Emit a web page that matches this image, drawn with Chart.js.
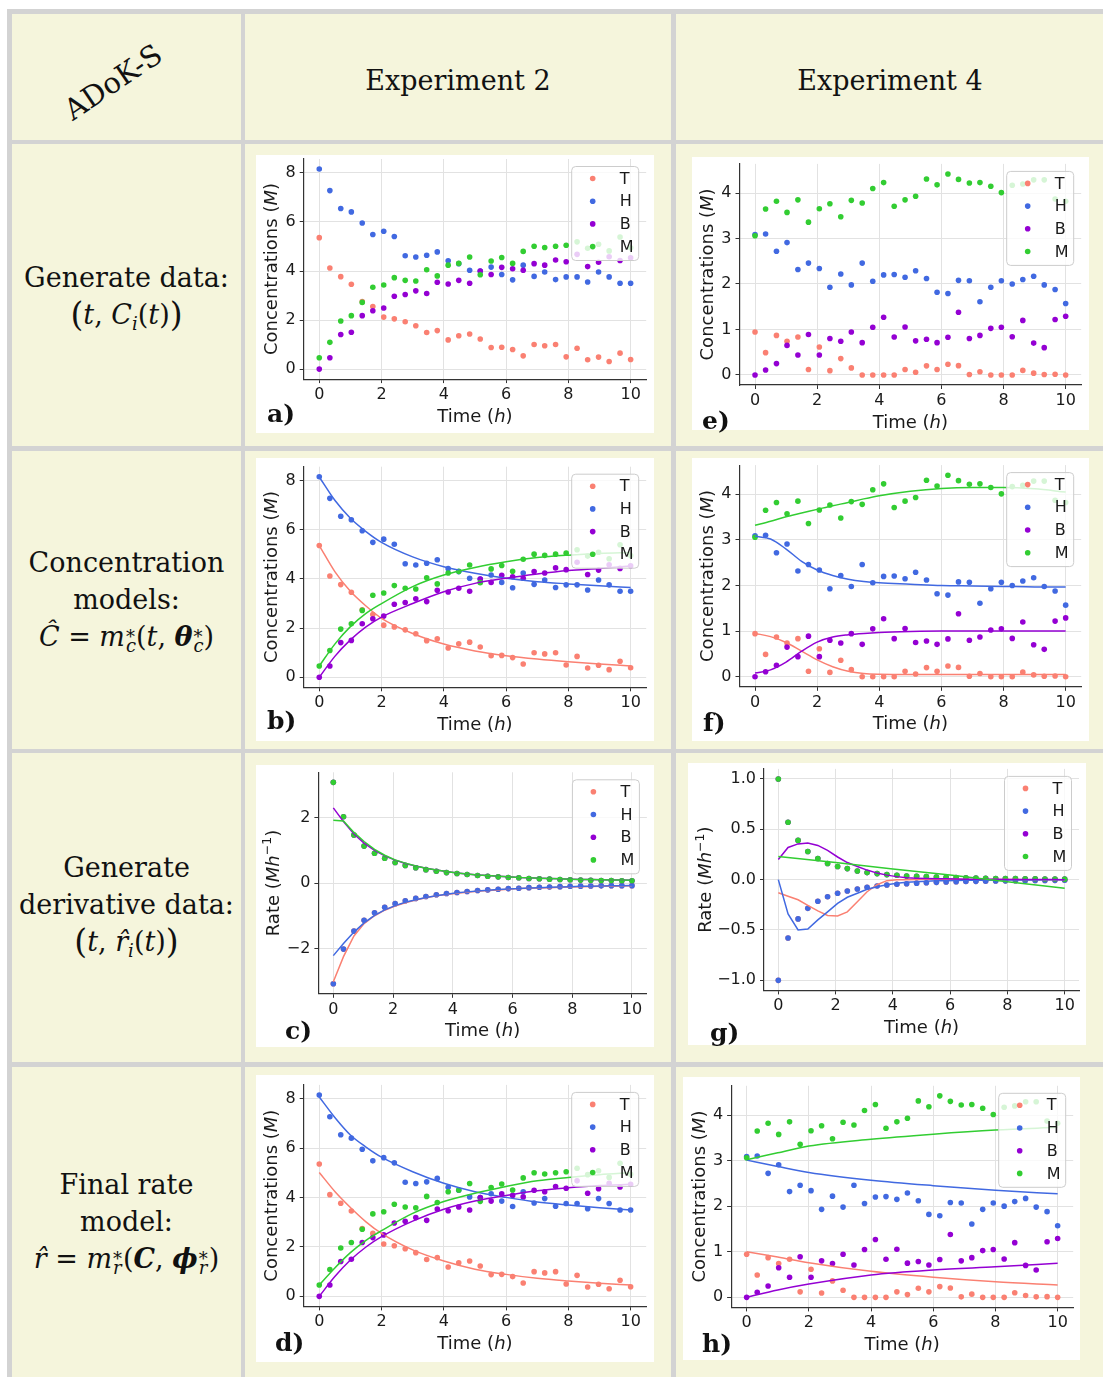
<!DOCTYPE html>
<html>
<head>
<meta charset="utf-8">
<title>ADoK-S</title>
<script src="https://cdn.jsdelivr.net/npm/chart.js@4.4.1/dist/chart.umd.min.js"></script>
<style>
  html, body { margin: 0; padding: 0; }
  body { width: 1103px; height: 1377px; position: relative; overflow: hidden; background: #fff;
         font-family: "DejaVu Serif", serif; color: #111; }
  #frame { position: absolute; left: 7px; top: 9px; right: 0; bottom: 0; background: #d3d3d3; }
  .cell { position: absolute; background: #f5f5dc; }
  .box { position: absolute; background: #fff; }
  .box canvas { position: absolute; left: 0; top: 0; }
  .head { position: absolute; font-size: 27px; line-height: 30px; white-space: nowrap; }
  .side { position: absolute; left: 12px; width: 229px; text-align: center; font-size: 27px;
          line-height: 37px; white-space: nowrap; }
  .tag { position: absolute; font-weight: bold; font-size: 25px; line-height: 25px; }
  .ss { display: inline-block; position: relative; width: 11px; height: 0; }
  .ss .u { position: absolute; left: 1px; top: -18px; font-size: 18px; line-height: 18px; font-style: normal; }
  .ss .d { position: absolute; left: 1px; top: -9px; font-size: 18px; line-height: 18px; font-style: italic; }
  .sb { font-size: 18px; font-style: italic; vertical-align: -6px; }
  .big { font-size: 33px; vertical-align: -2px; }
</style>
</head>
<body>
<div id="frame"></div>
<div id="cells"></div>

<div class="head" style="left:113px;top:82px;font-size:29px;transform:translate(-50%,-50%) rotate(-34deg)">ADoK-S</div>
<div class="head" style="left:458px;top:81px;transform:translate(-50%,-50%)">Experiment 2</div>
<div class="head" style="left:890px;top:81px;transform:translate(-50%,-50%)">Experiment 4</div>

<div class="side" style="top:259px">Generate data:<br><span class="big">(</span><i>t</i>, <i>C</i><span class="sb">i</span>(<i>t</i>)<span class="big">)</span></div>
<div class="side" style="top:544px">Concentration<br>models:<br><i>Ĉ</i> = <i>m</i><span class="ss"><span class="u">*</span><span class="d">c</span></span>(<i>t</i>, <b><i>θ</i></b><span class="ss"><span class="u">*</span><span class="d">c</span></span>)</div>
<div class="side" style="top:849px">Generate<br>derivative data:<br><span class="big">(</span><i>t</i>, <i>r̂</i><span class="sb">i</span>(<i>t</i>)<span class="big">)</span></div>
<div class="side" style="top:1166px">Final rate<br>model:<br><i>r̂</i> = <i>m</i><span class="ss"><span class="u">*</span><span class="d">r</span></span>(<b><i>C</i></b>, <b><i>ϕ</i></b><span class="ss"><span class="u">*</span><span class="d">r</span></span>)</div>

<script>
// --- Data ---
const species = ['T', 'H', 'B', 'M'];
const colors = ['#fa8072', '#4169e1', '#9400d3', '#32cd32'];

const times = [0, 0.34, 0.69, 1.03, 1.38, 1.72, 2.07, 2.41, 2.76, 3.10, 3.45, 3.79, 4.14, 4.48, 4.83,
               5.17, 5.52, 5.86, 6.21, 6.55, 6.90, 7.24, 7.59, 7.93, 8.28, 8.62, 8.97, 9.31, 9.66, 10];

const xTickVals = [0, 2, 4, 6, 8, 10];
const concTicks2 = [0, 2, 4, 6, 8];
const concTicks4 = [0, 1, 2, 3, 4];
const rateTicks2 = [-2, 0, 2];
const rateTicks4 = [-1, -0.5, 0, 0.5, 1];

// Experiment 2 measurements
const exp2T = [5.36, 4.12, 3.77, 3.46, 2.75, 2.55, 2.12, 2.05, 1.93, 1.77, 1.49, 1.57, 1.19, 1.36, 1.43,
               1.23, 0.88, 0.89, 0.80, 0.54, 1.00, 0.95, 1.00, 0.50, 0.85, 0.38, 0.49, 0.31, 0.65, 0.39];
const exp2H = [8.16, 7.28, 6.55, 6.41, 5.96, 5.49, 5.62, 5.41, 4.62, 4.57, 4.64, 4.78, 4.42, 4.30, 4.03,
               4.00, 4.16, 3.86, 3.64, 4.24, 3.78, 3.96, 3.65, 3.76, 3.76, 3.55, 3.96, 3.76, 3.50, 3.50];
const exp2B = [0.00, 0.46, 1.41, 1.50, 2.18, 2.38, 2.49, 2.97, 3.04, 3.19, 3.08, 3.54, 3.47, 3.62, 3.50,
               4.00, 3.86, 4.15, 4.09, 4.03, 4.30, 4.24, 4.45, 4.38, 4.68, 4.18, 4.36, 4.58, 4.43, 4.54];
const exp2M = [0.46, 1.09, 1.96, 2.18, 2.72, 3.34, 3.43, 3.73, 3.62, 3.59, 4.05, 3.80, 4.24, 4.31, 4.57,
               3.85, 4.41, 4.55, 4.31, 4.80, 5.01, 4.96, 5.01, 5.05, 5.19, 4.93, 5.09, 4.82, 5.39, 4.95];

// Experiment 4 measurements
const exp4T = [0.945, 0.49, 0.87, 0.74, 0.835, 0.12, 0.615, 0.095, 0.36, 0.155, 0, 0, 0, 0, 0.12,
               0.06, 0.20, 0.12, 0.235, 0.205, 0.01, 0.07, 0, 0, 0, 0.10, 0.04, 0.01, 0.015, 0];
const exp4H = [3.09, 3.10, 2.72, 2.91, 2.32, 2.46, 2.34, 1.93, 2.22, 1.98, 2.46, 2.06, 2.20, 2.21, 2.15,
               2.29, 2.12, 1.82, 1.79, 2.08, 2.07, 1.61, 1.93, 2.07, 2.00, 2.10, 2.17, 1.98, 1.88, 1.57];
const exp4B = [0.00, 0.11, 0.25, 0.65, 0.44, 0.89, 0.44, 0.80, 0.74, 0.945, 0.71, 1.05, 1.27, 0.835, 1.055,
               0.75, 0.785, 0.71, 0.83, 1.38, 0.80, 0.87, 1.025, 1.05, 0.84, 1.20, 0.70, 0.60, 1.22, 1.29];
const exp4M = [3.06, 3.65, 3.82, 3.575, 3.85, 3.36, 3.655, 3.765, 3.48, 3.84, 3.78, 4.10, 4.23, 3.71, 3.85,
               3.93, 4.31, 4.18, 4.42, 4.30, 4.22, 4.23, 4.15, 4.01, 4.17, 4.20, 4.29, 4.29, 3.87, 3.82];

// b) concentration models, experiment 2
const curveTimesB = [0, 0.5, 1, 1.5, 2, 3, 4, 5, 6, 7, 8, 9, 10];
const fitBT = [5.36, 4.30, 3.50, 2.90, 2.40, 1.78, 1.35, 1.07, 0.88, 0.74, 0.63, 0.54, 0.46];
const fitBH = [8.15, 7.20, 6.47, 5.93, 5.49, 4.90, 4.50, 4.23, 4.03, 3.89, 3.80, 3.72, 3.65];
const fitBB = [0.00, 0.85, 1.52, 2.05, 2.45, 3.00, 3.48, 3.82, 4.03, 4.20, 4.34, 4.43, 4.53];
const fitBM = [0.46, 1.35, 2.06, 2.60, 3.00, 3.69, 4.16, 4.47, 4.70, 4.87, 4.97, 5.04, 5.08];

// d) final rate model, experiment 2
const curveTimesD = [0, 0.5, 1, 1.5, 2, 3, 4, 5, 6, 7, 8, 9, 10];
const fitDT = [5.02, 4.25, 3.60, 3.02, 2.55, 1.88, 1.43, 1.10, 0.89, 0.73, 0.62, 0.53, 0.46];
const fitDH = [8.08, 7.25, 6.54, 6.05, 5.64, 5.05, 4.58, 4.24, 4.01, 3.82, 3.70, 3.59, 3.50];
const fitDB = [0.00, 0.80, 1.47, 2.00, 2.42, 3.05, 3.53, 3.86, 4.09, 4.28, 4.40, 4.49, 4.54];
const fitDM = [0.46, 1.15, 1.77, 2.27, 2.66, 3.36, 3.84, 4.18, 4.45, 4.68, 4.82, 4.93, 5.01];

// f) concentration models, experiment 4
const curveTimesF = [0, 0.5, 1, 1.5, 2, 2.5, 3, 3.5, 4, 5, 6, 7, 8, 9, 10];
const fitFT = [0.95, 0.88, 0.75, 0.56, 0.37, 0.22, 0.12, 0.07, 0.055, 0.05, 0.05, 0.05, 0.05, 0.05, 0.05];
const fitFH = [3.08, 3.02, 2.80, 2.53, 2.34, 2.22, 2.14, 2.09, 2.06, 2.03, 2.00, 1.99, 1.98, 1.97, 1.97];
const fitFB = [0.08, 0.15, 0.32, 0.56, 0.76, 0.87, 0.92, 0.95, 0.97, 0.99, 1.00, 1.00, 1.00, 1.00, 1.00];
const fitFM = [3.32, 3.41, 3.51, 3.59, 3.67, 3.75, 3.82, 3.90, 3.97, 4.07, 4.13, 4.15, 4.15, 4.12, 4.05];

// h) final rate model, experiment 4
const curveTimesH = [0, 1, 2, 4, 6, 8, 10];
const fitHT = [1.00, 0.885, 0.76, 0.57, 0.44, 0.34, 0.27];
const fitHH = [3.01, 2.87, 2.74, 2.57, 2.45, 2.35, 2.27];
const fitHB = [0.00, 0.16, 0.29, 0.49, 0.60, 0.67, 0.745];
const fitHM = [3.02, 3.17, 3.32, 3.47, 3.58, 3.67, 3.73];

// c) derivative data, experiment 2
const rate2T = [-3.08, -2.02, -1.47, -1.14, -0.91, -0.74, -0.63, -0.54, -0.47, -0.41, -0.36, -0.32, -0.29, -0.26, -0.23,
                -0.21, -0.19, -0.17, -0.16, -0.14, -0.13, -0.12, -0.11, -0.10, -0.095, -0.09, -0.085, -0.08, -0.08, -0.08];
const rate2H = [-3.08, -2.02, -1.47, -1.14, -0.91, -0.74, -0.63, -0.54, -0.47, -0.41, -0.36, -0.32, -0.29, -0.26, -0.23,
                -0.21, -0.19, -0.17, -0.16, -0.14, -0.13, -0.12, -0.11, -0.10, -0.095, -0.09, -0.085, -0.08, -0.08, -0.08];
const rate2B = [3.08, 2.03, 1.47, 1.13, 0.91, 0.76, 0.63, 0.54, 0.47, 0.41, 0.36, 0.32, 0.29, 0.26, 0.23,
                0.21, 0.19, 0.17, 0.16, 0.14, 0.13, 0.12, 0.11, 0.10, 0.09, 0.085, 0.08, 0.075, 0.07, 0.07];
const rate2M = [3.08, 2.03, 1.47, 1.13, 0.91, 0.76, 0.63, 0.54, 0.47, 0.41, 0.36, 0.32, 0.29, 0.26, 0.23,
                0.21, 0.19, 0.17, 0.16, 0.14, 0.13, 0.12, 0.11, 0.10, 0.09, 0.085, 0.08, 0.075, 0.07, 0.07];
const rate2FitT = [-3.02, -2.25, -1.62, -1.24, -1.00, -0.83, -0.70, -0.60, -0.52, -0.45, -0.39, -0.35, -0.31, -0.28, -0.25,
                   -0.23, -0.21, -0.19, -0.17, -0.16, -0.15, -0.14, -0.13, -0.12, -0.11, -0.105, -0.10, -0.095, -0.09, -0.085];
const rate2FitH = [-2.22, -1.85, -1.50, -1.22, -0.99, -0.82, -0.69, -0.59, -0.51, -0.44, -0.39, -0.34, -0.30, -0.27, -0.24,
                   -0.22, -0.20, -0.18, -0.17, -0.15, -0.14, -0.13, -0.12, -0.11, -0.10, -0.095, -0.09, -0.085, -0.08, -0.075];
const rate2FitB = [2.30, 1.88, 1.50, 1.22, 1.00, 0.83, 0.70, 0.60, 0.52, 0.45, 0.40, 0.35, 0.31, 0.28, 0.25,
                   0.23, 0.21, 0.19, 0.17, 0.16, 0.15, 0.14, 0.13, 0.12, 0.11, 0.105, 0.10, 0.095, 0.09, 0.085];
const rate2FitM = [1.92, 1.90, 1.55, 1.27, 1.03, 0.85, 0.71, 0.61, 0.52, 0.45, 0.40, 0.35, 0.31, 0.28, 0.25,
                   0.23, 0.21, 0.19, 0.17, 0.16, 0.15, 0.14, 0.13, 0.12, 0.11, 0.105, 0.10, 0.095, 0.09, 0.085];

// g) derivative data, experiment 4
const rate4T = [-1.00, -0.58, -0.39, -0.285, -0.215, -0.17, -0.135, -0.113, -0.093, -0.076, -0.063, -0.053, -0.046, -0.04, -0.035,
                -0.031, -0.027, -0.024, -0.021, -0.019, -0.017, -0.015, -0.013, -0.012, -0.011, -0.01, -0.009, -0.008, -0.007, -0.006];
const rate4H = [-1.00, -0.58, -0.39, -0.285, -0.215, -0.17, -0.135, -0.113, -0.093, -0.076, -0.063, -0.053, -0.046, -0.04, -0.035,
                -0.031, -0.027, -0.024, -0.021, -0.019, -0.017, -0.015, -0.013, -0.012, -0.011, -0.01, -0.009, -0.008, -0.007, -0.006];
const rate4B = [1.00, 0.57, 0.39, 0.28, 0.21, 0.16, 0.13, 0.11, 0.086, 0.07, 0.06, 0.05, 0.043, 0.036, 0.033,
                0.03, 0.026, 0.023, 0.02, 0.018, 0.016, 0.014, 0.012, 0.011, 0.01, 0.009, 0.008, 0.007, 0.006, 0.005];
const rate4M = [1.00, 0.57, 0.39, 0.28, 0.21, 0.16, 0.13, 0.11, 0.086, 0.07, 0.06, 0.05, 0.043, 0.036, 0.033,
                0.03, 0.026, 0.023, 0.02, 0.018, 0.016, 0.014, 0.012, 0.011, 0.01, 0.009, 0.008, 0.007, 0.006, 0.005];
const rate4FitT = [-0.13, -0.165, -0.20, -0.255, -0.31, -0.355, -0.36, -0.32, -0.22, -0.12, -0.05, -0.01, 0, 0, 0.002,
                   0.003, 0.003, 0.003, 0.003, 0.002, 0.002, 0.002, 0.001, 0.001, 0.001, 0, 0, 0, 0, 0];
const rate4FitH = [0, -0.34, -0.50, -0.49, -0.40, -0.32, -0.235, -0.175, -0.135, -0.095, -0.07, -0.05, -0.036, -0.026, -0.02,
                   -0.015, -0.012, -0.01, -0.008, -0.007, -0.006, -0.005, -0.004, -0.004, -0.003, -0.003, -0.003, -0.002, -0.002, -0.002];
const rate4FitB = [0.20, 0.32, 0.355, 0.365, 0.34, 0.29, 0.225, 0.17, 0.13, 0.095, 0.065, 0.045, 0.03, 0.02, 0.015,
                   0.012, 0.01, 0.008, 0.006, 0.005, 0.004, 0.003, 0.003, 0.002, 0.002, 0.001, 0.001, 0.001, 0.001, 0];
const lineTimesG = [0, 2, 4, 6, 8, 10];
const rate4FitM = [0.23, 0.17, 0.105, 0.045, -0.02, -0.085];

// --- Axis label text ---
const timeLabel = [{ t: 'Time (' }, { t: 'h', it: true }, { t: ')' }];
const concLabel = [{ t: 'Concentrations (' }, { t: 'M', it: true }, { t: ')' }];
const rateLabel = [{ t: 'Rate (' }, { t: 'Mh', it: true }, { t: '\u22121', sup: true }, { t: ')' }];

// --- Table cells ---
const colEdges = [[12, 241], [245, 671], [676, 1110]];
const rowEdges = [[14, 140], [144, 446], [451, 749], [753, 1062], [1067, 1390]];
const cellsEl = document.getElementById('cells');
rowEdges.forEach(r => colEdges.forEach(c => {
  const d = document.createElement('div');
  d.className = 'cell';
  d.style.cssText = `left:${c[0]}px;top:${r[0]}px;width:${c[1] - c[0]}px;height:${r[1] - r[0]}px`;
  cellsEl.appendChild(d);
}));

// --- Panels: box = [left, top, w, h], area = [left, top, right, bottom] (page px) ---
const panels = [
  { tag: 'a)', tagPos: [267, 401], box: [256, 155, 398, 278], area: [303.7, 157.7, 646.2, 379.1],
    y: [-0.408, 8.568], yTicks: concTicks2, dec: 0, yLab: concLabel, yOff: 33,
    dots: [exp2T, exp2H, exp2B, exp2M] },
  { tag: 'b)', tagPos: [267, 708], box: [256, 458, 398, 283], area: [303.7, 466.7, 646.2, 687.3],
    y: [-0.408, 8.568], yTicks: concTicks2, dec: 0, yLab: concLabel, yOff: 33,
    dots: [exp2T, exp2H, exp2B, exp2M], smooth: true,
    lines: [fitBT, fitBH, fitBB, fitBM], lineTimes: [curveTimesB, curveTimesB, curveTimesB, curveTimesB] },
  { tag: 'c)', tagPos: [285, 1018], box: [256, 765, 398, 282], area: [318.4, 772.3, 646.9, 993.8],
    y: [-3.388, 3.388], yTicks: rateTicks2, dec: 0, yLab: rateLabel, yOff: 46,
    dots: [rate2T, rate2H, rate2B, rate2M],
    lines: [rate2FitT, rate2FitH, rate2FitB, rate2FitM], lineTimes: [times, times, times, times] },
  { tag: 'd)', tagPos: [275, 1330], box: [256, 1075, 398, 287], area: [303.7, 1084.9, 646.2, 1306.4],
    y: [-0.408, 8.568], yTicks: concTicks2, dec: 0, yLab: concLabel, yOff: 33,
    dots: [exp2T, exp2H, exp2B, exp2M], smooth: true,
    lines: [fitDT, fitDH, fitDB, fitDM], lineTimes: [curveTimesD, curveTimesD, curveTimesD, curveTimesD] },
  { tag: 'e)', tagPos: [702, 408], box: [692, 157, 397, 273], area: [739.5, 163.9, 1081.2, 385],
    y: [-0.221, 4.641], yTicks: concTicks4, dec: 0, yLab: concLabel, yOff: 33,
    dots: [exp4T, exp4H, exp4B, exp4M] },
  { tag: 'f)', tagPos: [703, 710], box: [692, 458, 397, 283], area: [739.5, 465.1, 1081.2, 686.8],
    y: [-0.221, 4.641], yTicks: concTicks4, dec: 0, yLab: concLabel, yOff: 33,
    dots: [exp4T, exp4H, exp4B, exp4M], smooth: true,
    lines: [fitFT, fitFH, fitFB, fitFM], lineTimes: [curveTimesF, curveTimesF, curveTimesF, curveTimesF] },
  { tag: 'g)', tagPos: [710, 1020], box: [688, 763, 398, 282], area: [764, 768.9, 1079, 990.4],
    y: [-1.1, 1.1], yTicks: rateTicks4, dec: 1, yLab: rateLabel, yOff: 59.5,
    dots: [rate4T, rate4H, rate4B, rate4M],
    lines: [rate4FitT, rate4FitH, rate4FitB, rate4FitM], lineTimes: [times, times, times, lineTimesG] },
  { tag: 'h)', tagPos: [702, 1331], box: [683, 1077, 397, 283], area: [731.1, 1085.8, 1073.2, 1307.4],
    y: [-0.221, 4.641], yTicks: concTicks4, dec: 0, yLab: concLabel, yOff: 33,
    dots: [exp4T, exp4H, exp4B, exp4M], smooth: true,
    lines: [fitHT, fitHH, fitHB, fitHM], lineTimes: [curveTimesH, curveTimesH, curveTimesH, curveTimesH] }
];

// --- Helpers ---
function toXY(xs, ys) {
  return ys.map((v, i) => ({ x: xs[i], y: v }));
}
function fmtTick(v, dec) {
  const s = Math.abs(v).toFixed(dec);
  return (v < -1e-9 ? '\u2212' : '') + s;
}
function roundRectPath(ctx, x, y, w, h, r) {
  ctx.moveTo(x + r, y);
  ctx.arcTo(x + w, y, x + w, y + h, r);
  ctx.arcTo(x + w, y + h, x, y + h, r);
  ctx.arcTo(x, y + h, x, y, r);
  ctx.arcTo(x, y, x + w, y, r);
  ctx.closePath();
}
function drawSegs(ctx, segs, cx, cy) {
  const fontFor = s => (s.it ? 'italic ' : '') + (s.sup ? 12.5 : 18) + 'px "DejaVu Sans"';
  const widths = segs.map(s => { ctx.font = fontFor(s); return ctx.measureText(s.t).width; });
  let x = cx - widths.reduce((a, b) => a + b, 0) / 2;
  ctx.textAlign = 'left';
  ctx.textBaseline = 'alphabetic';
  segs.forEach((s, i) => {
    ctx.font = fontFor(s);
    ctx.fillText(s.t, x, cy + 6.5 - (s.sup ? 7.5 : 0));
    x += widths[i];
  });
}

// matplotlib-like legend inside the top right corner
const legendPlugin = {
  id: 'mplLegend',
  afterDatasetsDraw(chart) {
    const a = chart.chartArea, ctx = chart.ctx;
    const w = 67, h = 94, lx = a.right - 7.5 - w, ly = a.top + 7.5;
    ctx.save();
    ctx.beginPath();
    roundRectPath(ctx, lx, ly, w, h, 4);
    ctx.fillStyle = 'rgba(255,255,255,0.8)';
    ctx.fill();
    ctx.strokeStyle = '#cccccc';
    ctx.lineWidth = 1;
    ctx.stroke();
    ctx.font = '16px "DejaVu Sans"';
    ctx.textAlign = 'left';
    ctx.textBaseline = 'middle';
    species.forEach((n, i) => {
      const cy = ly + 12 + i * 22.7;
      ctx.beginPath();
      ctx.arc(lx + 21, cy, 2.8, 0, Math.PI * 2);
      ctx.fillStyle = colors[i];
      ctx.fill();
      ctx.fillStyle = '#1a1a1a';
      ctx.fillText(n, lx + 48, cy + 1);
    });
    ctx.restore();
  }
};

function axisLabelPlugin(p) {
  return {
    id: 'axisLabels',
    afterDraw(chart) {
      const a = chart.chartArea, ctx = chart.ctx;
      ctx.save();
      ctx.fillStyle = '#1a1a1a';
      drawSegs(ctx, timeLabel, (a.left + a.right) / 2, a.bottom + 36);
      ctx.translate(a.left - p.yOff, (a.top + a.bottom) / 2);
      ctx.rotate(-Math.PI / 2);
      drawSegs(ctx, p.yLab, 0, 0);
      ctx.restore();
    }
  };
}

function axisOpts(min, max, tickVals, dec, pad) {
  return {
    type: 'linear', min, max,
    afterBuildTicks: s => { s.ticks = tickVals.map(v => ({ value: v })); },
    grid: { color: '#e2e2e2', lineWidth: 1, drawTicks: true, tickLength: 4, tickColor: '#333', tickWidth: 1 },
    border: { display: true, color: '#333', width: 1.2 },
    ticks: { autoSkip: false, maxRotation: 0, padding: pad, color: '#1a1a1a',
             font: { family: 'DejaVu Sans', size: 16 }, callback: v => fmtTick(v, dec) }
  };
}

function makePanel(p) {
  const [bl, bt, bw, bh] = p.box;
  const [al, at, ar, ab] = p.area;
  const wrap = document.createElement('div');
  wrap.className = 'box';
  wrap.style.cssText = `left:${bl}px;top:${bt}px;width:${bw}px;height:${bh}px`;
  const cv = document.createElement('canvas');
  cv.width = bw;
  cv.height = bh;
  wrap.appendChild(cv);
  document.body.appendChild(wrap);

  const tag = document.createElement('div');
  tag.className = 'tag';
  tag.textContent = p.tag;
  tag.style.left = p.tagPos[0] + 'px';
  tag.style.top = p.tagPos[1] + 'px';
  document.body.appendChild(tag);

  const datasets = [];
  p.dots.forEach((vals, i) => datasets.push({
    type: 'scatter', label: species[i], data: toXY(times, vals),
    pointRadius: 2.8, pointBackgroundColor: colors[i], pointBorderColor: colors[i], pointBorderWidth: 0,
    order: 20 - i
  }));
  if (p.lines) p.lines.forEach((vals, i) => datasets.push({
    type: 'line', label: species[i] + ' fit', data: toXY(p.lineTimes[i], vals),
    borderColor: colors[i], borderWidth: 1.5, pointRadius: 0, fill: false,
    cubicInterpolationMode: p.smooth ? 'monotone' : 'default', tension: 0,
    order: 10 - i
  }));

  const xs = axisOpts(-0.5, 10.5, xTickVals, 0, 2);
  xs.afterFit = s => { s.height = bt + bh - ab; s.paddingLeft = 0; s.paddingRight = 0; };
  const ys = axisOpts(p.y[0], p.y[1], p.yTicks, p.dec, 4);
  ys.afterFit = s => { s.width = al - bl; s.paddingTop = 0; s.paddingBottom = 0; };

  new Chart(cv, {
    type: 'scatter',
    data: { datasets },
    options: {
      responsive: false,
      animation: false,
      events: [],
      devicePixelRatio: 1,
      layout: { padding: { top: at - bt, right: bl + bw - ar, left: 0, bottom: 0 } },
      plugins: { legend: { display: false }, tooltip: { enabled: false } },
      scales: { x: xs, y: ys }
    },
    plugins: [legendPlugin, axisLabelPlugin(p)]
  });
}

panels.forEach(makePanel);
</script>
</body>
</html>
